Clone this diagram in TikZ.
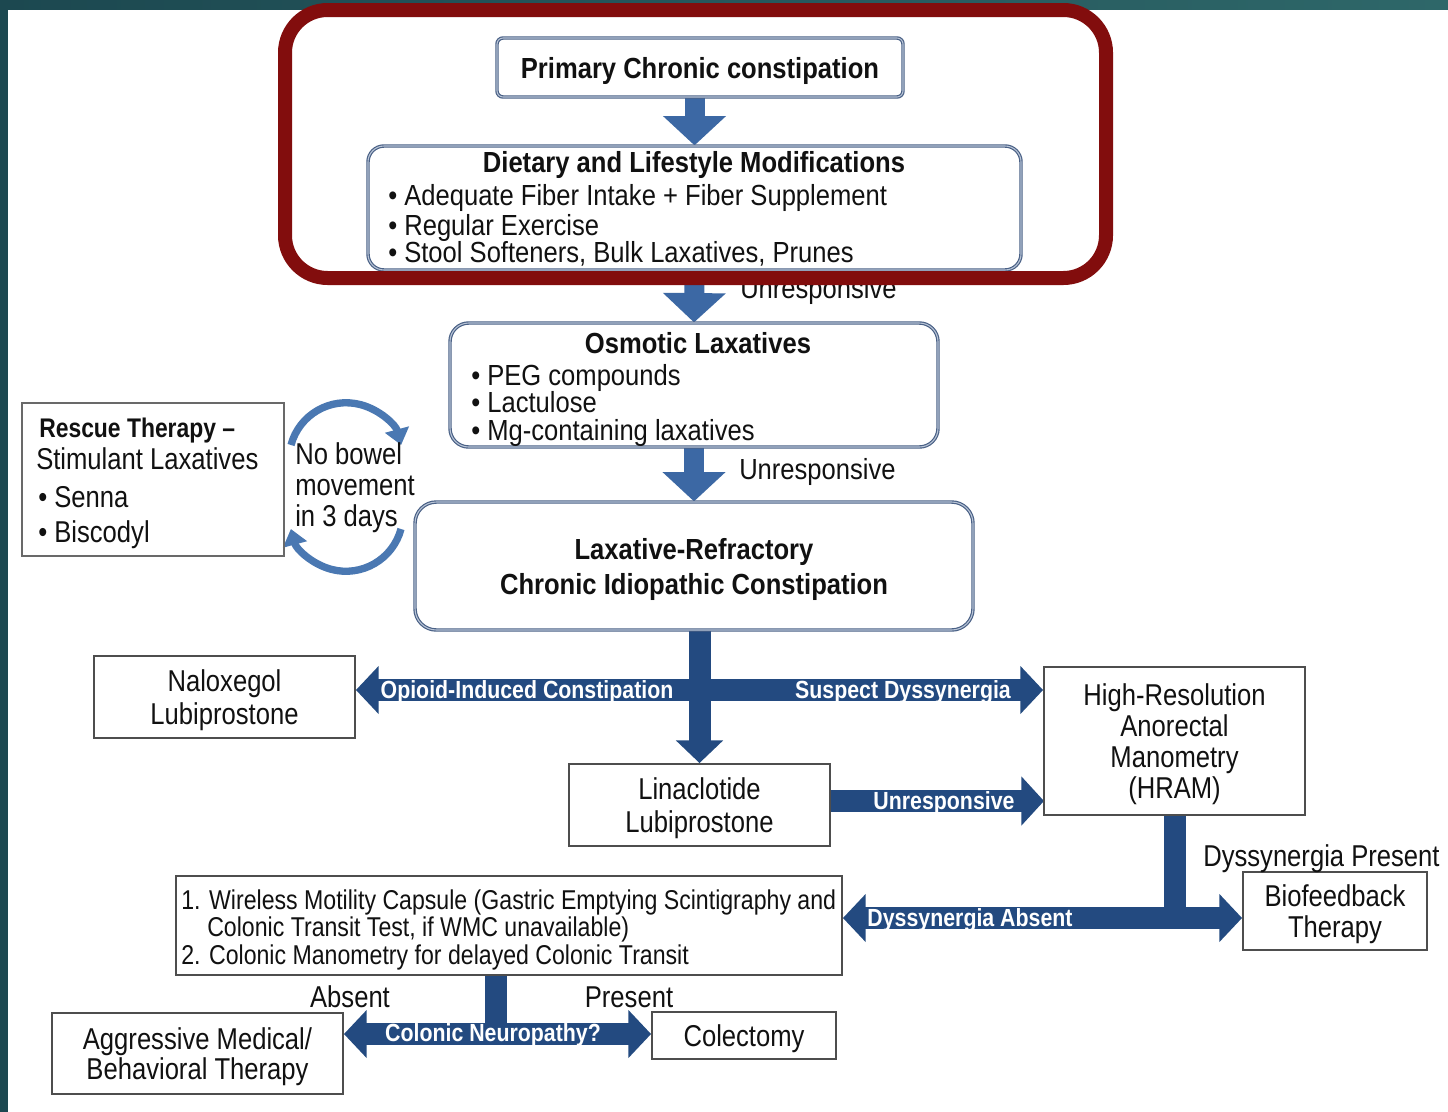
\documentclass[tikz,border=0pt]{standalone}
\usepackage{fontspec}
\setmainfont{Liberation Sans}
\newfontfamily\myTopFam[FakeStretch=0.88]{Liberation Sans}
\newfontfamily\myLowFam[FakeStretch=0.85]{Liberation Sans}
\newfontfamily\myBarFam[FakeStretch=0.86]{Liberation Sans}
\usetikzlibrary{arrows.meta,calc}
\pgfdeclarelayer{bglayer}
\pgfdeclarelayer{arrlayer}
\pgfsetlayers{bglayer,arrlayer,main}

\newcommand\myTop{\myTopFam\fontsize{21.8pt}{26pt}\selectfont}
\newcommand\myTopB{\myTopFam\bfseries\fontsize{21.8pt}{26.25pt}\selectfont}
\newcommand\myLow{\myLowFam\fontsize{22.6pt}{24.75pt}\selectfont}
\newcommand\myLowS{\myLowFam\fontsize{20.4pt}{22pt}\selectfont}
\newcommand\myBar{\myBarFam\bfseries\fontsize{18.6pt}{20pt}\selectfont}

\definecolor{bgA}{HTML}{1C4850}
\definecolor{bgB}{HTML}{2E6769}
\definecolor{frameRed}{HTML}{820D0D}
\definecolor{arrowA}{HTML}{3C68A4}
\definecolor{barBlue}{HTML}{234A80}
\definecolor{circBlue}{HTML}{4A78B2}
\definecolor{topLine}{HTML}{4A6186}
\definecolor{topDouble}{HTML}{B8C4D6}
\definecolor{lowLine}{HTML}{4E4E4E}
\definecolor{txtCol}{HTML}{111111}

\begin{document}
\begin{tikzpicture}[x=0.75pt, y=-0.75pt,
  every node/.style={text=txtCol},
  sz/.style 2 args={minimum width=#1*0.75pt, minimum height=#2*0.75pt},
  topbox/.style={draw=topLine, line width=0.9pt, double=topDouble, double distance=0.8pt, inner sep=0pt},
  lowbox/.style={draw=lowLine, line width=1.4pt, inner sep=0pt},
  intext/.style={inner sep=0pt, align=center, yshift=-2.25pt},
  txt/.style={inner sep=0pt, anchor=base west},
  ctxt/.style={inner sep=0pt, anchor=base},
  barlabel/.style={inner sep=0pt, anchor=base, text=white, font=\myBar},
  toparrow/.style={draw=arrowA, line width=15pt, arrows={-Triangle[width=46pt,length=22pt]}},
  bar/.style={draw=barBlue, line width=16.5pt},
  twohead/.style={arrows={Triangle[width=35pt,length=17pt]-Triangle[width=35pt,length=17pt]}},
  circ/.style={draw=circBlue, line width=5.5pt, arrows={-Triangle[width=18pt,length=12pt]}}
]
\useasboundingbox (0,0) rectangle (1448,1111);
\begin{pgfonlayer}{bglayer}
  \fill[left color=bgA, right color=bgB] (0,0) rectangle (1448,1111);
  \fill[white] (8,10) rectangle (1452,1115);
\end{pgfonlayer}

% ---------- top boxes
\node[topbox, rounded corners=4.5pt, sz={406}{59}] (prim) at (700,67.5) {};
\node[intext, font=\myTopB] (primT) at (prim.center) {Primary Chronic constipation};

\node[topbox, rounded corners=12pt, sz={653}{124}] (diet) at (694.5,208) {};
\node[ctxt, font=\myTopB] (dietT) at (694,172) {Dietary and Lifestyle Modifications};
\node[txt, font=\myTop] (d1) at (388,205) {• Adequate Fiber Intake + Fiber Supplement};
\node[txt, font=\myTop] (d2) at (388,235) {• Regular Exercise};
\node[txt, font=\myTop] (d3) at (388,262) {• Stool Softeners, Bulk Laxatives, Prunes};

\node[topbox, rounded corners=14pt, sz={488}{124}] (osm) at (694,385) {};
\node[ctxt, font=\myTopB] (osmT) at (698,353) {Osmotic Laxatives};
\node[txt, font=\myTop] (o1) at (471,385) {• PEG compounds};
\node[txt, font=\myTop] (o2) at (471,412) {• Lactulose};
\node[txt, font=\myTop] (o3) at (471,440) {• Mg-containing laxatives};

\node[topbox, rounded corners=16pt, sz={558}{128}] (refr) at (694,566) {};
\node[intext, font=\myTopB] (refrT) at (refr.center) {Laxative-Refractory\\Chronic Idiopathic Constipation};

\node[txt, font=\myTop] (u1) at (740,298) {Unresponsive};
\node[txt, font=\myTop] (u2) at (739,479) {Unresponsive};

% ---------- rescue
\node[draw=lowLine!85, line width=1.5pt, inner sep=0pt, sz={262}{153}] (resc) at (153,479.5) {};
\node[txt, font=\myLowFam\bfseries\fontsize{20.2pt}{22pt}\selectfont] (r1) at (39,437) {Rescue Therapy –};
\node[txt, font=\myLow] (r2) at (36,469) {Stimulant Laxatives};
\node[txt, font=\myLow] (r3) at (38,507) {• Senna};
\node[txt, font=\myLow] (r4) at (38,542) {• Biscodyl};

\node[txt, font=\myLow] (nb1) at (295,464) {No bowel};
\node[txt, font=\myLow] (nb2) at (295,495) {movement};
\node[txt, font=\myLow] (nb3) at (295,526) {in 3 days};

% ---------- lower boxes
\node[lowbox, sz={261}{82}] (nal) at (224.5,697) {};
\node[intext, font=\myLow] (nalT) at (nal.center) {Naloxegol\\Lubiprostone};
\node[lowbox, sz={261}{82}] (lin) at (699.5,805) {};
\node[intext, font=\myLow] (linT) at (lin.center) {Linaclotide\\Lubiprostone};
\node[lowbox, sz={261}{148}] (hram) at (1174.5,741) {};
\node[intext, font=\myLowFam\fontsize{22.6pt}{23.25pt}\selectfont] (hramT) at (hram.center) {High-Resolution\\Anorectal\\Manometry\\(HRAM)};
\node[lowbox, sz={666}{99}] (wmc) at (509,925.5) {};
\node[txt, font=\myLowS] (w1) at (181,909) {1. Wireless Motility Capsule (Gastric Emptying Scintigraphy and};
\node[txt, font=\myLowS] (w2) at (207,936) {Colonic Transit Test, if WMC unavailable)};
\node[txt, font=\myLowS] (w3) at (181,964) {2. Colonic Manometry for delayed Colonic Transit};
\node[lowbox, sz={184}{78}] (bio) at (1335,911) {};
\node[intext, font=\myLowFam\fontsize{22.6pt}{23.25pt}\selectfont] (bioT) at (bio.center) {Biofeedback\\Therapy};
\node[lowbox, sz={291}{81}] (agg) at (197.5,1053.5) {};
\node[intext, font=\myLowFam\fontsize{22.6pt}{22.5pt}\selectfont] (aggT) at (agg.center) {Aggressive Medical/\\Behavioral Therapy};
\node[lowbox, sz={184}{47}] (col) at (744,1035.5) {};
\node[intext, font=\myLow] (colT) at (col.center) {Colectomy};

\node[txt, font=\myLow] (dp) at (1203,866) {Dyssynergia Present};
\node[ctxt, font=\myLow] (abs) at (350,1007) {Absent};
\node[ctxt, font=\myLow] (pres) at (629,1007) {Present};

% ---------- connectors
\coordinate (j1) at (699,690);
\coordinate (j2) at (1044,801);
\coordinate (j3) at (1175,918);
\coordinate (j4) at (496,1034);
\begin{pgfonlayer}{arrlayer}
  \draw[toparrow] (prim.south -| diet.north) -- (diet.north);
  \draw[toparrow] (diet.south) -- (osm.north);
  \draw[toparrow] (osm.south) -- (refr.north);

  \draw[bar, arrows={-Triangle[width=34.5pt,length=17pt]}] (refr.south -| lin.north) -- (lin.north);
  \draw[bar, twohead] (j1 -| nal.east) -- (j1 -| hram.west);
  \draw[bar, arrows={-Triangle[width=36pt,length=17pt]}] (j2 -| lin.east) -- (j2);
  \draw[bar] (hram.south) -- (hram.south |- j3);
  \draw[bar, twohead] (j3 -| wmc.east) -- (j3 -| bio.west);
  \draw[bar] (wmc.south -| j4) -- (j4);
  \draw[bar, twohead] (j4 -| agg.east) -- (j4 -| col.west);

  \draw[circ] (291,445) arc[start angle=165, end angle=15, radius=42.75pt];
  \draw[circ] (401,529) arc[start angle=-15, end angle=-165, radius=42.75pt];
\end{pgfonlayer}

\node[barlabel] (l1) at (527,698) {Opioid-Induced Constipation};
\node[barlabel] (l2) at (903,698) {Suspect Dyssynergia};
\node[barlabel] (l3) at (944,809) {Unresponsive};
\node[barlabel] (l4) at (970,926) {Dyssynergia Absent};
\node[barlabel] (l5) at (493,1041) {Colonic Neuropathy?};

% ---------- highlight frame
\draw[draw=frameRed, line width=10.5pt, rounded corners=32pt] (285,10) rectangle (1106,278);
\end{tikzpicture}
\end{document}
